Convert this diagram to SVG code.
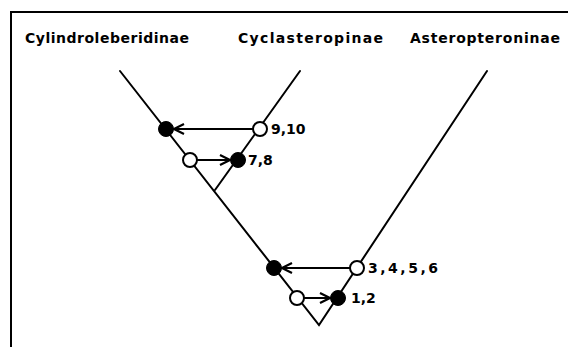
<svg xmlns="http://www.w3.org/2000/svg" width="568" height="347" viewBox="0 0 568 347">
<style>
.lbl{font-family:"DejaVu Sans","Liberation Sans",sans-serif;font-weight:bold;font-size:14px;fill:#000}
.num{font-family:"DejaVu Sans","Liberation Sans",sans-serif;font-weight:bold;font-size:14px;fill:#000}
.ln{stroke:#000;stroke-width:2;fill:none;stroke-linecap:round}
.open{fill:#fff;stroke:#000;stroke-width:2}
.fill{fill:#000;stroke:#000;stroke-width:1}
</style>
<defs>
<marker id="ah" viewBox="0 0 12 12" refX="11" refY="6" markerWidth="12" markerHeight="12" markerUnits="userSpaceOnUse" orient="auto">
<path d="M1,1 L11,6 L1,11" fill="none" stroke="#000" stroke-width="2.2"/>
</marker>
</defs>
<rect width="568" height="347" fill="#fff"/>
<g id="frame">
<path d="M11,347 L11,12 L568,12" class="ln" stroke-linecap="butt"/>
</g>
<g id="titles">
<text class="lbl" x="25" y="43" textLength="164" lengthAdjust="spacing">Cylindroleberidinae</text>
<text class="lbl" x="238" y="43" textLength="145" lengthAdjust="spacing">Cyclasteropinae</text>
<text class="lbl" x="410" y="43" textLength="150" lengthAdjust="spacing">Asteropteroninae</text>
</g>
<g id="connectors">
<path class="ln" d="M120,71 L319,325 L487,71"/>
<path class="ln" d="M300,71 L215,190"/>
<path class="ln" d="M253,129 L174,129" marker-end="url(#ah)"/>
<path class="ln" d="M197,160 L230,160" marker-end="url(#ah)"/>
<path class="ln" d="M350,268 L282,268" marker-end="url(#ah)"/>
<path class="ln" d="M304,298 L330,298" marker-end="url(#ah)"/>
</g>
<g id="n910">
<circle class="open" cx="260" cy="129" r="7"/>
<text class="num" x="271" y="134">9,10</text>
</g>
<g id="n910target">
<circle class="fill" cx="166" cy="129" r="7.5"/>
</g>
<g id="n78">
<circle class="fill" cx="238" cy="160" r="7.5"/>
<text class="num" x="248" y="165">7,8</text>
</g>
<g id="n78source">
<circle class="open" cx="190" cy="160" r="7"/>
</g>
<g id="n3456">
<circle class="open" cx="357" cy="268" r="7"/>
<text class="num" x="368" y="273" textLength="70" lengthAdjust="spacing">3,4,5,6</text>
</g>
<g id="n3456target">
<circle class="fill" cx="274" cy="268" r="7.5"/>
</g>
<g id="n12">
<circle class="fill" cx="338" cy="298" r="7.5"/>
<text class="num" x="351" y="303">1,2</text>
</g>
<g id="n12source">
<circle class="open" cx="297" cy="298" r="7"/>
</g>
</svg>
